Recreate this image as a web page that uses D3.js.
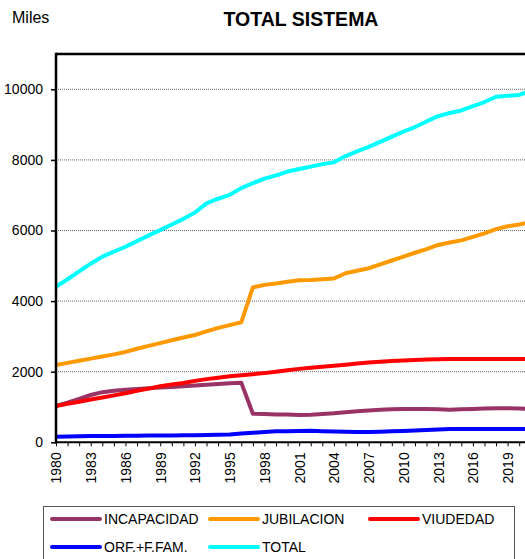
<!DOCTYPE html>
<html>
<head>
<meta charset="utf-8">
<script src="https://cdn.jsdelivr.net/npm/d3@7"></script>
<style>
  html, body { margin: 0; padding: 0; background: #fff; }
  svg { display: block; font-family: "Liberation Sans", Arial, sans-serif; }
</style>
</head>
<body>
<svg id="chart" width="525" height="559"></svg>
<script>
const years = d3.range(1980, 2022);
const yTicks = [0, 2000, 4000, 6000, 8000, 10000];
const xTickLabels = [1980, 1983, 1986, 1989, 1992, 1995, 1998, 2001, 2004, 2007, 2010, 2013, 2016, 2019];

const incapacidad = [1030,1120,1230,1340,1420,1460,1490,1510,1530,1550,1570,1590,1610,1630,1650,1670,1690,
  810,800,790,785,775,780,800,820,850,880,900,920,935,940,945,945,935,925,935,945,955,965,965,955,950];
const jubilacion = [2190,2250,2310,2370,2430,2490,2560,2650,2730,2810,2890,2970,3040,3140,3240,3320,3400,
  4390,4460,4500,4550,4590,4600,4620,4640,4790,4860,4930,5040,5150,5260,5370,5470,5590,5660,5720,5820,5920,6040,6120,6170,6240];
const viudedad = [1030,1090,1150,1210,1270,1330,1390,1460,1520,1590,1640,1680,1740,1790,1830,1870,1900,
  1930,1960,2000,2040,2080,2110,2140,2170,2200,2230,2260,2280,2300,2320,2330,2345,2355,2360,2360,2360,2360,2360,2360,2360,2360];
const orfandad = [160,165,170,175,178,180,183,186,190,193,196,200,203,208,213,220,250,
  270,290,310,315,320,330,315,305,300,295,290,300,310,320,335,350,365,375,375,375,375,378,380,380,380];
const total = [4410,4620,4840,5060,5260,5400,5540,5700,5860,6010,6170,6330,6510,6770,6900,7010,7200,
  7340,7470,7560,7670,7740,7810,7880,7930,8110,8240,8370,8510,8660,8800,8930,9090,9240,9330,9400,9520,9640,9790,9820,9840,9960];

const seriesNames = ["INCAPACIDAD", "JUBILACION", "VIUDEDAD", "ORF.+F.FAM.", "TOTAL"];
const seriesValues = [incapacidad, jubilacion, viudedad, orfandad, total];
const seriesColors = ["#993366", "#FF9900", "#FF0000", "#0000FF", "#00FFFF"];

const svg = d3.select("#chart");
const plotLeft = 56, plotTop = 54, plotBottom = 442.3;

const x = d3.scaleLinear().domain([1980, 2021]).range([plotLeft, plotLeft + 41 * 11.58]);
const y = d3.scaleLinear().domain([0, 11000]).range([plotBottom, plotTop]);

// gridlines
svg.append("g").selectAll("line").data(yTicks.filter(d => d > 0)).join("line")
  .attr("x1", plotLeft).attr("x2", 525)
  .attr("y1", d => y(d)).attr("y2", d => y(d))
  .attr("stroke", "#666").attr("stroke-width", 1).attr("stroke-dasharray", "1,1");

// top border
svg.append("line").attr("x1", plotLeft).attr("x2", 525).attr("y1", plotTop).attr("y2", plotTop)
  .attr("stroke", "#000").attr("stroke-width", 2.5);

// lines
const line = d3.line().x((d, i) => x(years[i])).y(d => y(d));
seriesValues.forEach((vals, k) => {
  svg.append("path").datum(vals)
    .attr("d", line)
    .attr("fill", "none")
    .attr("stroke", seriesColors[k])
    .attr("stroke-width", 4)
    .attr("stroke-linejoin", "round");
});

// y axis
const yAxis = d3.axisLeft(y).tickValues(yTicks).tickSize(5).tickPadding(8).tickFormat(d3.format("d"));
const gy = svg.append("g").attr("transform", `translate(${plotLeft},0)`).call(yAxis);
gy.select(".domain").remove();
gy.selectAll(".tick line").attr("stroke", "#000").attr("stroke-width", 1.5);
gy.selectAll(".tick text").attr("font-size", 14).attr("fill", "#000")
  .attr("font-family", "'Liberation Sans', Arial, sans-serif");
svg.append("line").attr("x1", plotLeft).attr("x2", plotLeft).attr("y1", plotTop - 1.2).attr("y2", plotBottom + 1)
  .attr("stroke", "#000").attr("stroke-width", 2.5);

// x axis
const xAxis = d3.axisBottom(x).tickValues(years).tickSize(4).tickFormat(d => xTickLabels.includes(d) ? d : "");
const gx = svg.append("g").attr("transform", `translate(0,${plotBottom})`).call(xAxis);
gx.select(".domain").remove();
gx.selectAll(".tick line").attr("stroke", "#000").attr("stroke-width", 1);
gx.selectAll(".tick text")
  .attr("font-size", 14).attr("fill", "#000")
  .attr("font-family", "'Liberation Sans', Arial, sans-serif")
  .attr("transform", "rotate(-90)")
  .attr("text-anchor", "end")
  .attr("x", -10).attr("y", 0).attr("dy", "0.35em");
svg.append("line").attr("x1", plotLeft - 1).attr("x2", 525).attr("y1", plotBottom).attr("y2", plotBottom)
  .attr("stroke", "#000").attr("stroke-width", 2);

// titles
svg.append("text").attr("x", 301).attr("y", 26).attr("text-anchor", "middle")
  .attr("font-size", 19.5).attr("font-weight", "bold").attr("fill", "#000").text("TOTAL SISTEMA");
svg.append("text").attr("x", 12).attr("y", 23)
  .attr("font-size", 16).attr("fill", "#000").text("Miles");

// legend
svg.append("rect").attr("x", 43.5).attr("y", 506.5).attr("width", 471).attr("height", 60)
  .attr("fill", "#fff").attr("stroke", "#555").attr("stroke-width", 1);
const legendPos = [[52, 519], [210, 519], [370, 519], [52, 547], [210, 547]];
seriesNames.forEach((name, k) => {
  const [lx, ly] = legendPos[k];
  svg.append("line").attr("x1", lx).attr("x2", lx + 48).attr("y1", ly).attr("y2", ly)
    .attr("stroke", seriesColors[k]).attr("stroke-width", 4).attr("stroke-linecap", "round");
  svg.append("text").attr("x", lx + 52).attr("y", ly).attr("dy", "0.36em")
    .attr("font-size", 14).attr("fill", "#000").text(name);
});
</script>
</body>
</html>
